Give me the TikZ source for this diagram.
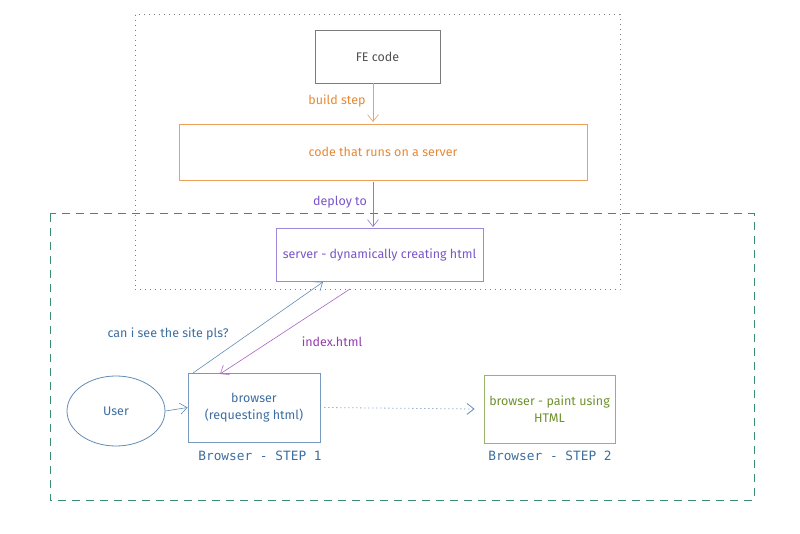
\documentclass[tikz,border=0pt]{standalone}
\usepackage{fontspec}
\setmainfont{Fira Sans}
\setmonofont{DejaVu Sans Mono}
\usetikzlibrary{arrows.meta,shapes.geometric}
\definecolor{cgray}{RGB}{90,90,90}
\definecolor{corange}{RGB}{232,136,50}
\definecolor{cpurple}{RGB}{120,85,200}
\definecolor{cmag}{RGB}{150,60,175}
\definecolor{cblue}{RGB}{60,110,160}
\definecolor{cgreen}{RGB}{110,145,45}
\definecolor{cdash}{RGB}{60,140,110}
\tikzset{
  box/.style={draw, line width=0.8pt, inner sep=0pt},
  lbl/.style={font=\fontsize{12.5}{15}\selectfont, inner sep=1pt},
  steplbl/.style={font=\ttfamily\fontsize{12.8}{15}\selectfont, text=cblue, inner sep=1pt},
  arr/.style={-{Straight Barb[length=7pt,width=11pt]}, line width=0.6pt}
}
\begin{document}
\begin{tikzpicture}[x=1pt,y=-1pt]
\useasboundingbox (0,0) rectangle (800,534);
% frames
\draw[cgray!80, line width=1pt, dash pattern=on 1pt off 4pt] (135,15) rectangle (620,290);
\draw[cdash, line width=1pt, dash pattern=on 8pt off 6pt] (50,214) rectangle (754,500);
% nodes
\node[box, draw=cgray!80, minimum width=125pt, minimum height=53pt, text=cgray!90!black, lbl] (fe) at (377.5,56.5) {FE code};
\node[box, draw=corange!80, minimum width=408pt, minimum height=56pt, text=corange, lbl] (code) at (383,152) {code that runs on a server};
\node[box, draw=cpurple!70, minimum width=207pt, minimum height=53pt, text=cpurple, lbl] (server) at (379.5,254.5) {server - dynamically creating html};
\node[draw=cblue!80, line width=0.8pt, ellipse, minimum width=98pt, minimum height=70pt, text=cblue, lbl] (user) at (116,411) {User};
\node[box, draw=cblue!70, minimum width=132pt, minimum height=69pt, text=cblue, lbl, align=center] (browser) at (254,407.5) {browser\\[2pt](requesting html)};
\node[box, draw=cgreen!70, minimum width=131pt, minimum height=68pt, text=cgreen, lbl, align=center] (paint) at (549.5,409) {browser - paint using\\[2pt]HTML};
\node[steplbl] (s1) at (260,456) {Browser - STEP 1};
\node[steplbl] (s2) at (550,456) {Browser - STEP 2};
% connector coordinates
\coordinate (feb) at (373,83);
\coordinate (codet) at (373,122);
\coordinate (codeb) at (373,182);
\coordinate (servt) at (373,227);
\coordinate (bt1) at (193,373);
\coordinate (sb1) at (323,282);
\coordinate (sb2) at (350,289);
\coordinate (bt2) at (220,374);
% arrows
\draw[arr, corange!80] (feb) -- (codet);
\node[lbl, text=corange] (bl) at (337,101) {build step};
\draw[arr, cpurple!80] (codeb) -- (servt);
\node[lbl, text=cpurple] (dl) at (340,202) {deploy to};
\draw[arr, cblue!80] (bt1) -- (sb1);
\node[lbl, text=cblue] (ql) at (168,334) {can i see the site pls?};
\draw[arr, cmag!80] (sb2) -- (bt2);
\node[lbl, text=cmag] (il) at (332,342) {index.html};
\draw[arr, cblue!80] (user.east) -- (browser.west);
\draw[arr, cblue!80, line width=0.8pt, dash pattern=on 1pt off 3pt] (browser.east) ++(4,0) -- ([xshift=-9pt]paint.west);
\end{tikzpicture}
\end{document}
